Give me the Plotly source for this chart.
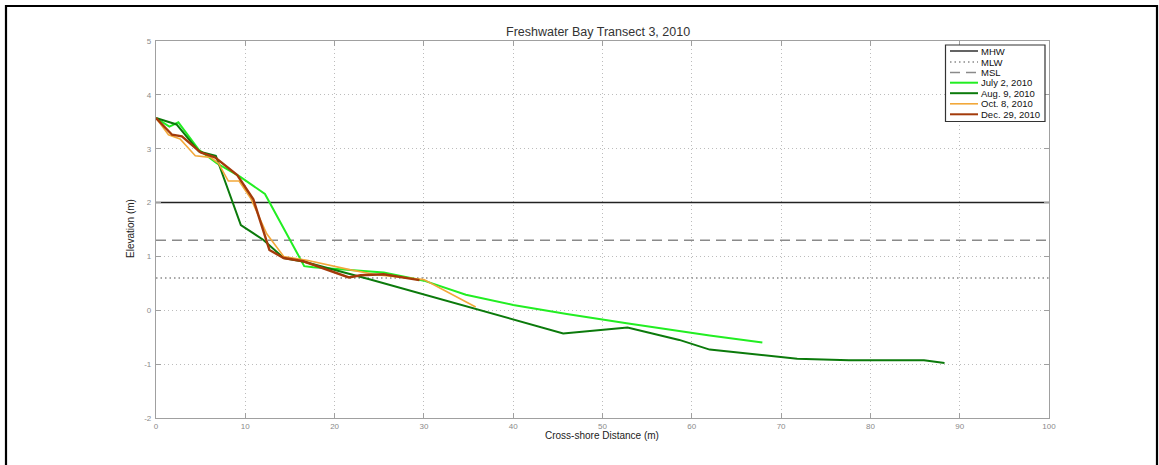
import plotly.graph_objects as go

# Tidal datums (m)
datum_names = ["MHW", "MLW", "MSL"]
datum_levels = [2.0, 0.6, 1.3]

# Survey profiles: cross-shore distance (m) and elevation (m)
survey_names = ["July 2, 2010", "Aug. 9, 2010", "Oct. 8, 2010", "Dec. 29, 2010"]

x_jul = [0, 1.5, 2.5, 4.8, 6.8, 9.4, 12.2, 16.6, 17.6, 21.0, 25.5, 30.0, 34.7, 40.0, 46.0, 52.7, 62.0, 67.9]
y_jul = [3.57, 3.41, 3.49, 2.98, 2.73, 2.48, 2.16, 0.82, 0.80, 0.76, 0.70, 0.55, 0.29, 0.10, -0.07, -0.24, -0.47, -0.60]

x_aug = [0, 2.3, 4.8, 6.7, 9.5, 12.0, 14.3, 16.6, 24.0, 35.8, 45.6, 52.8, 58.6, 62.0, 71.8, 77.6, 86.0, 88.3]
y_aug = [3.57, 3.45, 2.95, 2.87, 1.58, 1.31, 0.97, 0.90, 0.57, 0.02, -0.43, -0.32, -0.55, -0.73, -0.90, -0.93, -0.93, -0.98]

x_oct = [0, 1.4, 2.7, 4.4, 6.1, 7.0, 8.1, 9.3, 10.6, 12.4, 14.3, 16.9, 21.8, 24.7, 30.0, 35.8]
y_oct = [3.57, 3.26, 3.18, 2.87, 2.84, 2.73, 2.40, 2.40, 2.08, 1.42, 1.00, 0.93, 0.75, 0.66, 0.57, 0.06]

x_dec = [0, 1.8, 2.9, 5.0, 6.6, 9.1, 10.9, 12.7, 14.3, 16.5, 21.6, 22.9, 25.5, 29.5]
y_dec = [3.57, 3.26, 3.23, 2.93, 2.84, 2.51, 2.06, 1.12, 0.97, 0.91, 0.61, 0.65, 0.67, 0.56]

x_ticks = [0, 10, 20, 30, 40, 50, 60, 70, 80, 90, 100]
y_ticks = [-2, -1, 0, 1, 2, 3, 4, 5]

# Styles
datum_styles = [
    dict(color="#222222", width=1.4, dash="solid"),
    dict(color="#8a8a8a", width=1.4, dash="1.5px,3px"),
    dict(color="#8a8a8a", width=1.6, dash="10px,6px"),
]
survey_styles = [
    dict(color="#22ee22", width=2.0),
    dict(color="#0b7a0b", width=2.0),
    dict(color="#f2a83a", width=1.6),
    dict(color="#a33a0a", width=2.4),
]

W, H = 1159, 465
ML, MR, MT, MB = 156, 110, 41, 47
PW, PH = W - ML - MR, H - MT - MB

fig = go.Figure()

for name, level, st in zip(datum_names, datum_levels, datum_styles):
    fig.add_trace(go.Scatter(x=[x_ticks[0], x_ticks[-1]], y=[level, level], mode="lines",
                             name=name, line=st, showlegend=False, hoverinfo="skip"))

survey_x = [x_jul, x_aug, x_oct, x_dec]
survey_y = [y_jul, y_aug, y_oct, y_dec]
for name, xs, ys, st in zip(survey_names, survey_x, survey_y, survey_styles):
    fig.add_trace(go.Scatter(x=xs, y=ys, mode="lines", name=name, line=st,
                             showlegend=False))

font_main = "Liberation Sans, Arial, sans-serif"
font_narrow = "Liberation Sans Narrow, Liberation Sans, Arial, sans-serif"

axis_common = dict(
    showgrid=True, gridcolor="#bcbcbc", griddash="1px,3px", gridwidth=1,
    zeroline=False, showline=True, linecolor="#a0a0a0", linewidth=1.3,
    mirror="ticks", ticks="inside", ticklen=5, tickcolor="#a0a0a0",
    tickfont=dict(family=font_narrow, size=8, color="#8a8a8a"),
)

fig.update_xaxes(range=[0, 100], tickvals=x_ticks, ticktext=[str(v) for v in x_ticks],
                 **axis_common)
fig.update_yaxes(range=[-2, 5], tickvals=y_ticks, ticktext=[str(v) for v in y_ticks],
                 ticklabelstandoff=2, **axis_common)

def px_to_paper_x(px):
    return (px - ML) / PW

def px_to_paper_y(py):
    return 1 - (py - MT) / PH

shapes = []
annotations = []

# Outer figure frame
shapes.append(dict(type="rect", xref="paper", yref="paper",
                   x0=px_to_paper_x(6), x1=px_to_paper_x(1157),
                   y0=px_to_paper_y(475), y1=px_to_paper_y(6),
                   line=dict(color="#000000", width=2.2), fillcolor="rgba(0,0,0,0)", layer="above"))

# Legend box
lx0, lx1, ly0, ly1 = 945.5, 1045, 45, 121.5
shapes.append(dict(type="rect", xref="paper", yref="paper",
                   x0=px_to_paper_x(lx0), x1=px_to_paper_x(lx1),
                   y0=px_to_paper_y(ly1), y1=px_to_paper_y(ly0),
                   line=dict(color="#333333", width=1.2), fillcolor="#ffffff", layer="above"))

legend_names = datum_names + survey_names
legend_styles = datum_styles + [dict(s, width=min(s["width"], 2.0)) for s in survey_styles]
row_y = [51, 62, 72.5, 82.7, 93.2, 103.8, 114.3]
for name, st, ry in zip(legend_names, legend_styles, row_y):
    shapes.append(dict(type="line", xref="paper", yref="paper",
                       x0=px_to_paper_x(950), x1=px_to_paper_x(978),
                       y0=px_to_paper_y(ry), y1=px_to_paper_y(ry),
                       line=st, layer="above"))
    annotations.append(dict(text=name, xref="paper", yref="paper",
                            x=px_to_paper_x(979), y=px_to_paper_y(ry),
                            xanchor="left", yanchor="middle", showarrow=False,
                            font=dict(family=font_main, size=9.5, color="#111111")))

# Title and axis labels
annotations.append(dict(text="Freshwater Bay Transect 3, 2010", xref="paper", yref="paper",
                        x=px_to_paper_x(598), y=px_to_paper_y(32), xanchor="center", yanchor="middle",
                        showarrow=False, font=dict(family=font_main, size=12.5, color="#333333")))
annotations.append(dict(text="Cross-shore Distance (m)", xref="paper", yref="paper",
                        x=px_to_paper_x(602), y=px_to_paper_y(435), xanchor="center", yanchor="middle",
                        showarrow=False, font=dict(family=font_narrow, size=10, color="#222222")))
annotations.append(dict(text="Elevation (m)", xref="paper", yref="paper", textangle=-90,
                        x=px_to_paper_x(131), y=px_to_paper_y(229), xanchor="center", yanchor="middle",
                        showarrow=False, font=dict(family=font_narrow, size=10, color="#222222")))

fig.update_layout(
    width=W, height=H,
    margin=dict(l=ML, r=MR, t=MT, b=MB),
    paper_bgcolor="#ffffff", plot_bgcolor="#ffffff",
    showlegend=False,
    shapes=shapes, annotations=annotations,
)

fig.write_html("out.html")
